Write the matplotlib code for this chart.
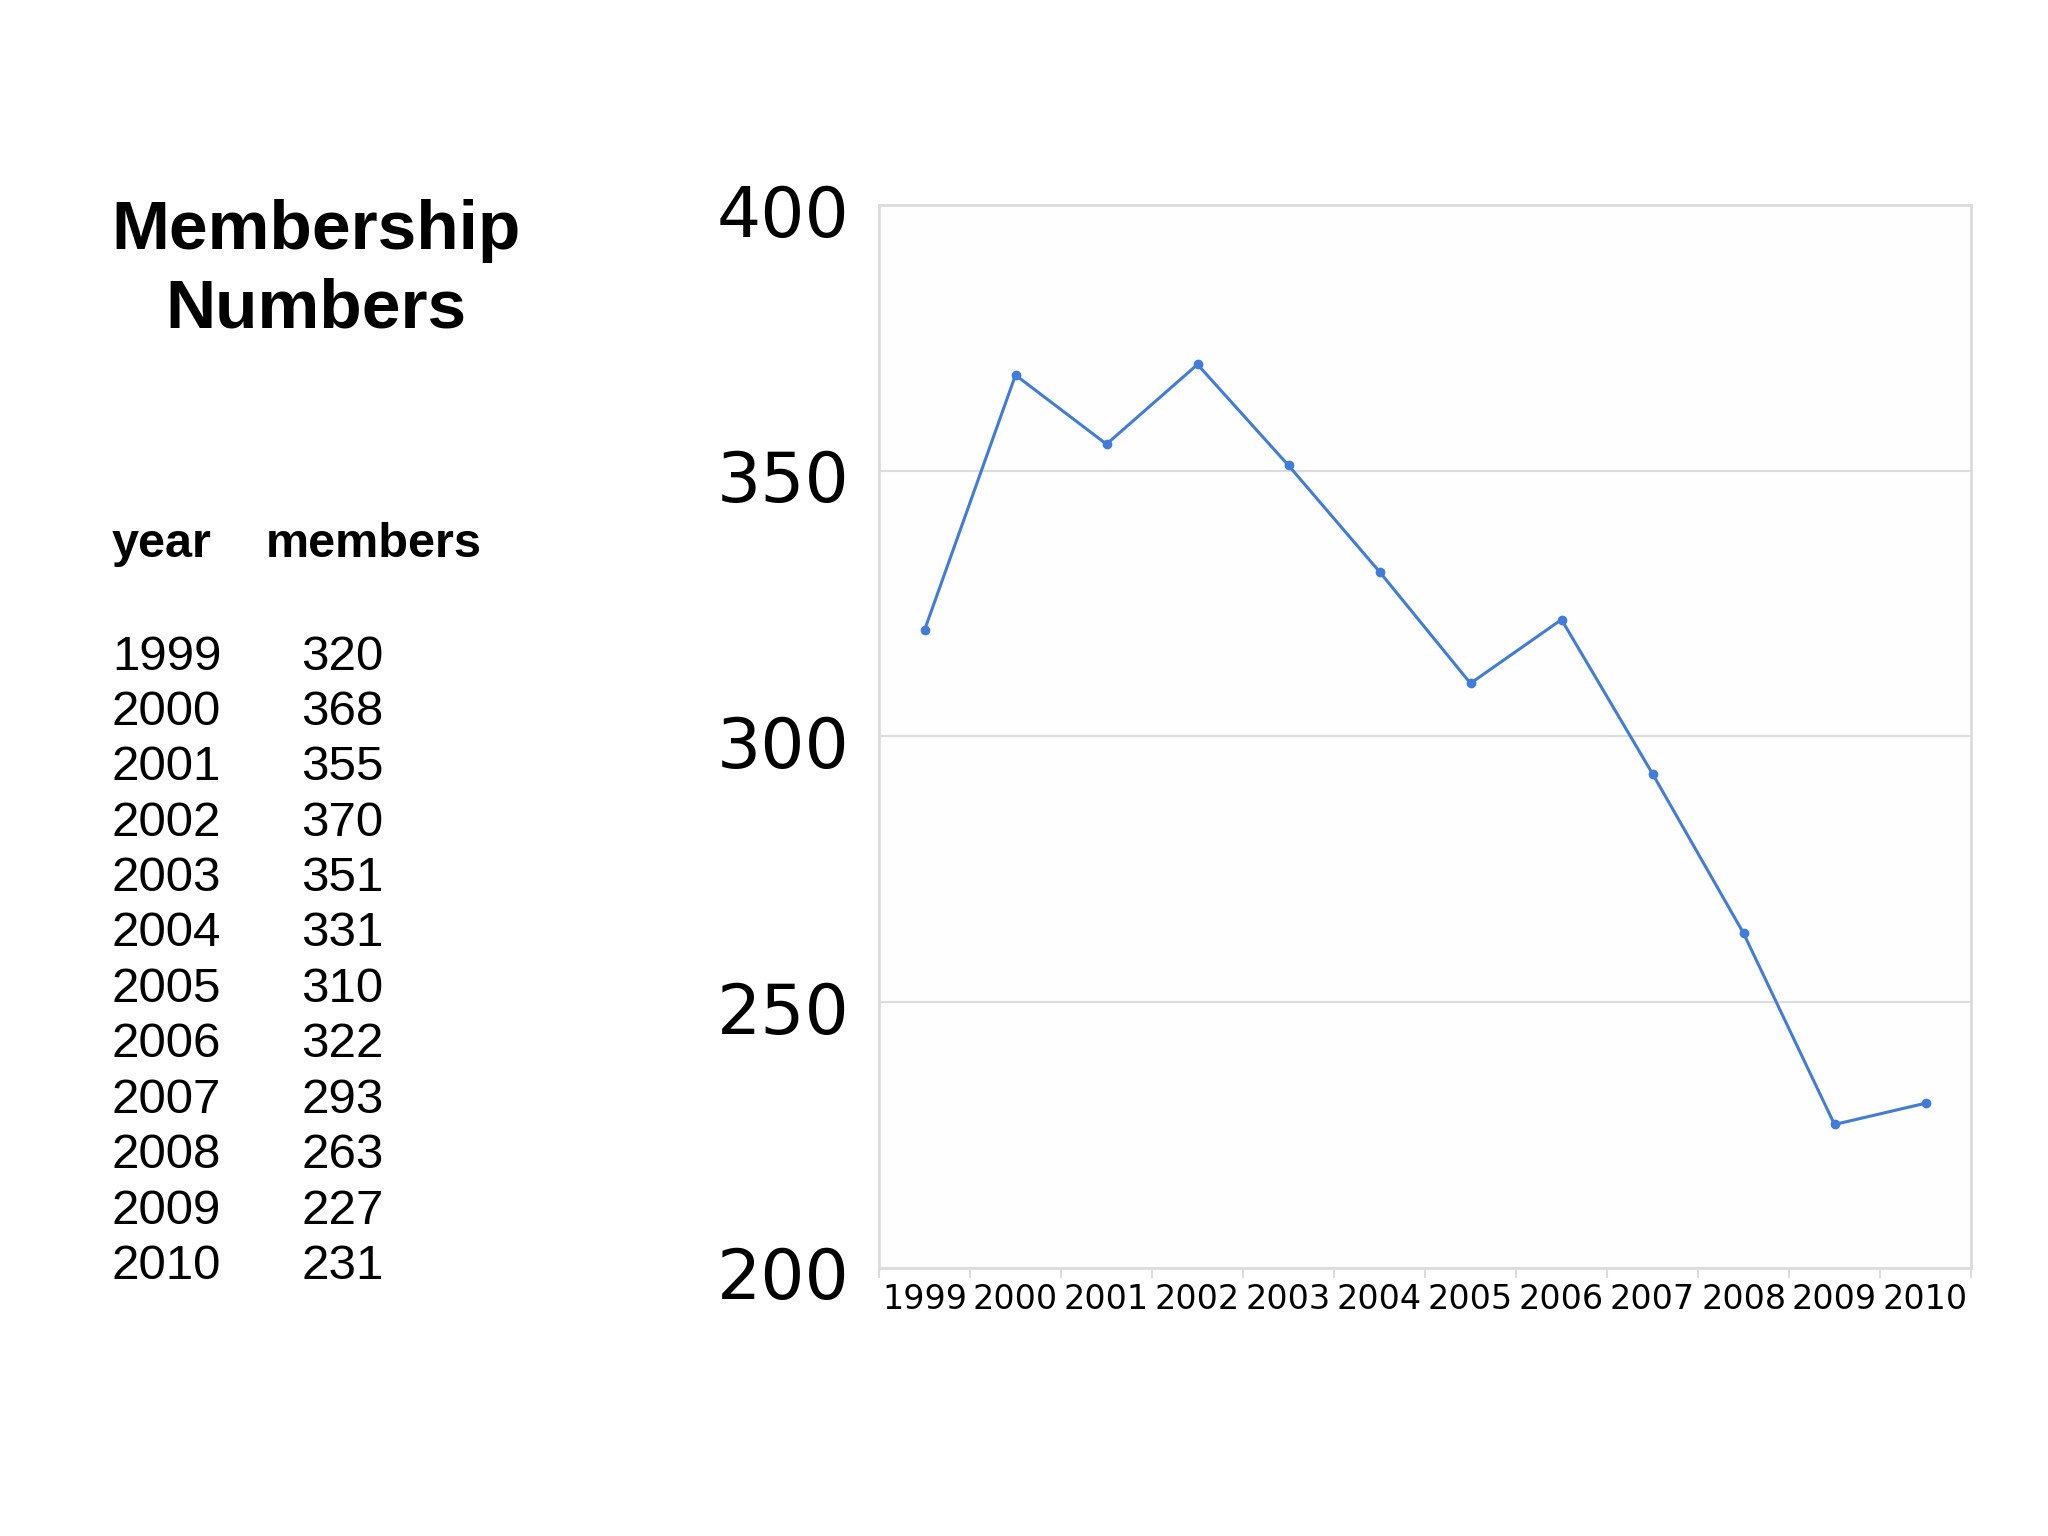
import matplotlib
matplotlib.use("Agg")
import matplotlib.pyplot as plt
import matplotlib.transforms as mtransforms

# membership data
years = [1999, 2000, 2001, 2002, 2003, 2004, 2005, 2006, 2007, 2008, 2009, 2010]
members = [320, 368, 355, 370, 351, 331, 310, 322, 293, 263, 227, 231]
y_ticks = [200, 250, 300, 350, 400]

LINE_COLOR = '#417cd8'
GRID_COLOR = '#dcdcdc'

fig = plt.figure(figsize=(20.48, 15.36), dpi=100)
fig.patch.set_facecolor('white')

# --- left side: title + table as text ---
fig.text(316 / 2048, 1 - 270 / 1536, "Membership\nNumbers", family='Liberation Sans',
         fontsize=50, fontweight='bold', ha='center', va='center',
         multialignment='center', linespacing=1.29)

fig.text(112 / 2048, 1 - 545 / 1536, "year", family='Liberation Sans',
         fontsize=35, fontweight='bold', ha='left', va='center')
fig.text(266 / 2048, 1 - 545 / 1536, "members", family='Liberation Sans',
         fontsize=35, fontweight='bold', ha='left', va='center')

row_top = 657
row_step = 55.4
for i, (yr, m) in enumerate(zip(years, members)):
    yy = 1 - (row_top + i * row_step) / 1536
    fig.text(112 / 2048, yy, str(yr), family='Liberation Sans', fontsize=35.5,
             ha='left', va='center')
    fig.text(301 / 2048, yy, str(m), family='Liberation Sans', fontsize=35.5,
             ha='left', va='center')

# --- right side: line chart ---
ax = fig.add_axes([879 / 2048, 1 - 1268 / 1536, (1971 - 879) / 2048, (1268 - 205) / 1536])
ax.set_facecolor('#fefefe')

x = list(range(len(years)))
ax.plot(x, members, color=LINE_COLOR, linewidth=2.2, marker='o', markersize=6, zorder=3)

ax.set_xlim(-0.5, len(years) - 0.5)
ax.set_ylim(200, 400)

ax.set_yticks(y_ticks)
ax.set_yticklabels([str(v) for v in y_ticks], fontsize=50, family='DejaVu Sans')
ax.tick_params(axis='y', length=0, pad=21)
# nudge the big y labels a few pixels down, as on the slide
shift = mtransforms.ScaledTranslation(0, -5 / 100, fig.dpi_scale_trans)
for lbl in ax.get_yticklabels():
    lbl.set_transform(lbl.get_transform() + shift)

# category labels centred, boundary ticks as minor ticks
ax.set_xticks(x)
ax.set_xticklabels([str(y) for y in years], fontsize=24, family='DejaVu Sans')
ax.tick_params(axis='x', which='major', length=0, pad=11)
ax.set_xticks([i - 0.5 for i in range(len(years) + 1)], minor=True)
ax.tick_params(axis='x', which='minor', length=7, width=1.5, color=GRID_COLOR)

ax.grid(axis='y', color=GRID_COLOR, linewidth=1.5)
ax.set_axisbelow(True)
for s in ax.spines.values():
    s.set_color(GRID_COLOR)
    s.set_linewidth(2)

fig.savefig("out.png", dpi=100)
